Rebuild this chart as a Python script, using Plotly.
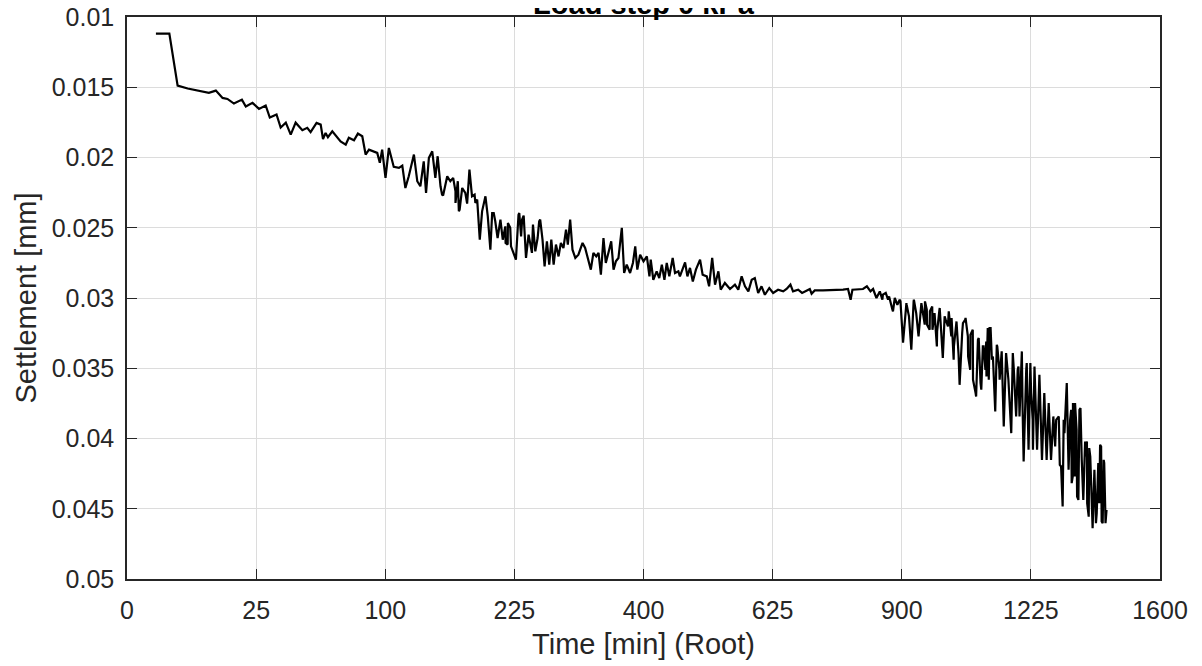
import numpy as np
import plotly.graph_objects as go

title_text = "Load step 0 kPa"
x_label = "Time [min] (Root)"
y_label = "Settlement [mm]"

# x: square root of time [sqrt(min)], y: settlement [mm]  (main readings)
root_time = [
    1.12, 1.64, 1.96, 2.35, 3.17, 3.44, 3.70, 3.89, 4.14, 4.45, 4.60, 4.86, 5.11, 5.37, 5.53, 5.79,
    5.95, 6.15, 6.34, 6.53, 6.79, 6.98, 7.11, 7.34, 7.50, 7.59, 7.69, 7.78, 7.95, 8.27, 8.47, 8.59,
    8.79, 8.94, 9.11, 9.24, 9.37, 9.69, 9.79, 9.88, 10.01, 10.14, 10.33, 10.53, 10.66, 10.78, 10.91,
    11.11, 11.24, 11.36, 11.49, 11.58, 11.69, 11.82, 11.94, 12.03, 12.14, 12.24, 12.40, 12.52, 12.63,
    12.72, 12.81, 12.88, 12.98, 13.10, 13.17, 13.26, 13.36, 13.46, 13.56, 13.66, 13.75, 13.88, 13.97,
    14.07, 14.14, 14.26, 14.35, 14.46, 14.55, 14.65, 14.74, 14.84, 14.95, 15.06, 15.16, 15.26, 15.36,
    15.45, 15.55, 15.64, 15.72, 15.81, 15.90, 16.00, 16.09, 16.17, 16.26, 16.35, 16.43, 16.52, 16.61,
    16.71, 16.80, 16.90, 17.00, 17.07, 17.16, 17.25, 17.36, 17.48, 17.64, 17.74, 17.87, 17.96, 18.06,
    18.17, 18.26, 18.35, 18.45, 18.54, 18.64, 18.75, 18.84, 18.93, 19.03, 19.16, 19.25, 19.35, 19.48,
    19.59, 19.68, 19.76, 19.87, 20.00, 20.13, 20.23, 20.28, 20.38, 20.51, 20.61, 20.71, 20.81, 20.90,
    21.00, 21.13, 21.22, 21.35, 21.41, 21.61, 21.70, 21.80, 21.91, 22.03, 22.19, 22.29, 22.45, 22.54,
    22.66, 22.77, 22.90, 22.99, 23.15, 23.35, 23.54, 23.67, 23.80, 23.93, 24.06, 24.19, 24.31, 24.44,
    24.57, 24.70, 24.87, 25.02, 25.21, 25.41, 25.54, 25.69, 25.79, 25.99, 26.14, 26.31, 26.44, 26.51,
    26.63, 26.95, 27.34, 27.73, 27.92, 28.02, 28.09, 28.50, 28.65, 28.79, 28.89, 29.02, 29.15, 29.25,
    29.38, 29.51, 29.64, 29.73, 29.83, 29.95, 30.05, 30.18, 30.37, 30.47, 30.56, 30.65, 30.76, 30.89,
    30.97, 31.08, 31.18, 31.27, 31.36, 31.46, 31.59, 31.70, 31.82, 31.92, 32.01, 32.11, 32.24, 32.34,
    32.46, 32.56, 32.65, 32.75, 32.88, 32.98, 33.08, 33.17, 33.27, 33.37, 33.44, 33.53, 33.62, 33.70,
    33.78, 33.87, 33.95, 34.04, 34.13, 34.24, 34.30, 34.40, 34.49, 34.56, 34.65, 34.72, 34.82, 34.91,
    34.98, 35.07, 35.14, 35.24, 35.33, 35.43, 35.52, 35.61, 35.69, 35.78, 35.87, 35.98, 36.08, 36.17,
    36.23, 36.30, 36.39, 36.46, 36.56, 36.62, 36.71, 36.79, 36.88, 36.97, 37.03, 37.11, 37.17, 37.24,
    37.30, 37.37, 37.46, 37.52, 37.58, 37.65, 37.72, 37.78, 37.84, 37.88,
]
settlement = [
    0.01118, 0.01118, 0.01488, 0.01509, 0.01540, 0.01524, 0.01576, 0.01583, 0.01616, 0.01588, 0.01637,
    0.01611, 0.01654, 0.01630, 0.01716, 0.01694, 0.01787, 0.01752, 0.01837, 0.01752, 0.01806, 0.01789,
    0.01820, 0.01754, 0.01766, 0.01868, 0.01825, 0.01856, 0.01813, 0.01885, 0.01908, 0.01860, 0.01877,
    0.01830, 0.01849, 0.01979, 0.01944, 0.01967, 0.02038, 0.01944, 0.02145, 0.01932, 0.02067, 0.02074,
    0.02058, 0.02217, 0.02134, 0.01979, 0.02169, 0.02205, 0.02027, 0.02252, 0.02003, 0.01956, 0.02145,
    0.01991, 0.02205, 0.02271, 0.02134, 0.02169, 0.02145, 0.02241, 0.02169, 0.02371, 0.02217, 0.02252,
    0.02328, 0.02086, 0.02276, 0.02264, 0.02300, 0.02585, 0.02383, 0.02276, 0.02419, 0.02656, 0.02395,
    0.02454, 0.02573, 0.02442, 0.02585, 0.02490, 0.02620, 0.02501, 0.02679, 0.02727, 0.02407, 0.02561,
    0.02414, 0.02715, 0.02549, 0.02656, 0.02478, 0.02668, 0.02573, 0.02442, 0.02585, 0.02775, 0.02597,
    0.02763, 0.02585, 0.02763, 0.02620, 0.02704, 0.02608, 0.02644, 0.02514, 0.02620, 0.02442, 0.02656,
    0.02715, 0.02692, 0.02608, 0.02644, 0.02727, 0.02798, 0.02679, 0.02704, 0.02679, 0.02834, 0.02573,
    0.02751, 0.02679, 0.02597, 0.02798, 0.02739, 0.02715, 0.02501, 0.02822, 0.02763, 0.02822, 0.02751,
    0.02632, 0.02798, 0.02692, 0.02739, 0.02704, 0.02846, 0.02727, 0.02870, 0.02810, 0.02858, 0.02763,
    0.02870, 0.02751, 0.02846, 0.02715, 0.02822, 0.02810, 0.02846, 0.02746, 0.02846, 0.02786, 0.02882,
    0.02798, 0.02727, 0.02834, 0.02846, 0.02917, 0.02715, 0.02905, 0.02810, 0.02941, 0.02893, 0.02936,
    0.02905, 0.02941, 0.02846, 0.02917, 0.02953, 0.02870, 0.02858, 0.02964, 0.02917, 0.02977, 0.02929,
    0.02964, 0.02941, 0.02953, 0.02936, 0.02905, 0.02953, 0.02941, 0.02964, 0.02948, 0.02936, 0.02969,
    0.02946, 0.02946, 0.02946, 0.02941, 0.02936, 0.03012, 0.02941, 0.02936, 0.02917, 0.02953, 0.02936,
    0.03000, 0.02953, 0.03012, 0.02964, 0.02989, 0.03083, 0.03000, 0.03048, 0.03024, 0.03318, 0.03036,
    0.03368, 0.03012, 0.03107, 0.03273, 0.03036, 0.03190, 0.03083, 0.03226, 0.03060, 0.03107, 0.03345,
    0.03083, 0.03427, 0.03154, 0.03095, 0.03273, 0.03439, 0.03167, 0.03618, 0.03249, 0.03154, 0.03273,
    0.03511, 0.03226, 0.03701, 0.03285, 0.03653, 0.03345, 0.03309, 0.03582, 0.03214, 0.03416, 0.03808,
    0.03345, 0.03511, 0.03380, 0.03915, 0.03392, 0.03582, 0.03962, 0.03392, 0.03689, 0.03511, 0.03843,
    0.03380, 0.04164, 0.03511, 0.04080, 0.03463, 0.03867, 0.03487, 0.04080, 0.03546, 0.04152, 0.03677,
    0.04152, 0.03748, 0.04152, 0.03843, 0.03867, 0.03843, 0.04199, 0.04484, 0.03962, 0.03605, 0.04223,
    0.03796, 0.04271, 0.03748, 0.04413, 0.03796, 0.04152, 0.04437, 0.04128, 0.04021, 0.04556, 0.04128,
    0.04627, 0.04223, 0.04603, 0.04318, 0.04460, 0.04057, 0.04603, 0.04175, 0.04508,
]

# additional readings taken from close-ups of the noisy parts
root_time_extra = [
    12.20, 12.72, 12.85, 13.23, 13.49, 14.20, 14.66, 14.75, 14.87, 15.19, 15.30, 15.68, 15.96,
    29.27, 29.47, 29.66, 29.79, 29.92, 30.19, 30.28, 30.46, 30.90, 30.98, 31.09, 31.19, 31.37,
    31.47, 31.66, 31.79, 31.93, 32.02, 32.12, 32.20, 32.37, 32.47, 32.57, 32.66, 32.76, 32.86,
    32.95, 33.05, 33.14, 33.24, 33.33, 33.28, 33.40, 33.49, 33.68, 33.79, 34.34, 34.43, 34.52,
    34.68, 34.84, 34.92, 35.01, 35.08, 35.94, 36.12, 36.27, 36.52, 36.58, 36.63, 36.70, 36.77,
    36.84, 36.92, 37.00, 37.10, 37.18, 37.26, 37.39, 37.55, 37.61, 37.68, 37.74, 37.82, 37.89,
    37.93,
]
settlement_extra = [
    0.02264, 0.02323, 0.02383, 0.02169, 0.02323, 0.02395, 0.02608, 0.02466, 0.02632, 0.02395,
    0.02442, 0.02679, 0.02454,
    0.02976, 0.03012, 0.03095, 0.03036, 0.03012, 0.03048, 0.03131, 0.03024, 0.03024, 0.03190,
    0.03095, 0.03226, 0.03238, 0.03071, 0.03131, 0.03202, 0.03142, 0.03345, 0.03167, 0.03404,
    0.03178, 0.03142, 0.03416, 0.03261, 0.03582, 0.03677, 0.03297, 0.03605, 0.03345, 0.03511,
    0.03214, 0.03558, 0.03214, 0.03439, 0.03333, 0.03582, 0.03511, 0.03843, 0.03487, 0.03796,
    0.03463, 0.03962, 0.03677, 0.04080, 0.04057, 0.04187, 0.03867, 0.03867, 0.04318, 0.03748,
    0.04271, 0.03938, 0.04437, 0.03784, 0.04342, 0.04021, 0.04460, 0.04068, 0.04638, 0.04531,
    0.04175, 0.04045, 0.04591, 0.04152, 0.04603, 0.04508,
]

x_tick_minutes = [0, 25, 100, 225, 400, 625, 900, 1225, 1600]
x_tick_labels = ["0", "25", "100", "225", "400", "625", "900", "1225", "1600"]
y_tick_values = [0.01, 0.015, 0.02, 0.025, 0.03, 0.035, 0.04, 0.045, 0.05]
y_tick_labels = ["0.01", "0.015", "0.02", "0.025", "0.03", "0.035", "0.04", "0.045", "0.05"]

pairs = sorted(zip(root_time + root_time_extra, settlement + settlement_extra), key=lambda p: p[0])
x_all = [p[0] for p in pairs]
y_all = [p[1] for p in pairs]

font_family = "Liberation Sans, Arial, Helvetica, sans-serif"
axis_color = "#262626"

fig = go.Figure()
fig.add_trace(go.Scatter(
    x=x_all, y=y_all, mode="lines",
    line=dict(color="black", width=2.2),
    showlegend=False,
))

axis_common = dict(
    showline=True, linecolor=axis_color, linewidth=1.5, mirror="ticks",
    ticks="inside", ticklen=10, tickwidth=1.3, tickcolor=axis_color,
    showgrid=True, gridcolor="#dcdcdc", gridwidth=1,
    zeroline=False, automargin=False, ticklabeloverflow="allow",
    tickfont=dict(family=font_family, size=25, color=axis_color),
)

fig.update_xaxes(
    range=[0, 40],
    tickvals=list(np.sqrt(x_tick_minutes)), ticktext=x_tick_labels,
    ticklabelstandoff=8,
    title=dict(text=x_label, font=dict(family=font_family, size=29, color=axis_color), standoff=11),
    **axis_common,
)
fig.update_yaxes(
    range=[0.05, 0.01],
    tickvals=y_tick_values, ticktext=y_tick_labels,
    ticklabelstandoff=6,
    title=dict(text=y_label, font=dict(family=font_family, size=29, color=axis_color), standoff=7),
    **axis_common,
)

fig.update_layout(
    width=1202, height=666,
    margin=dict(l=119, r=50, t=9, b=95),
    paper_bgcolor="white", plot_bgcolor="white",
    title=dict(
        text="<b>" + title_text + "</b>", xref="paper", x=0.5, xanchor="center",
        yref="container", y=0.9915, yanchor="bottom", automargin=False,
        font=dict(family=font_family, size=29, color="black"),
    ),
)

fig.write_html("out.html")
